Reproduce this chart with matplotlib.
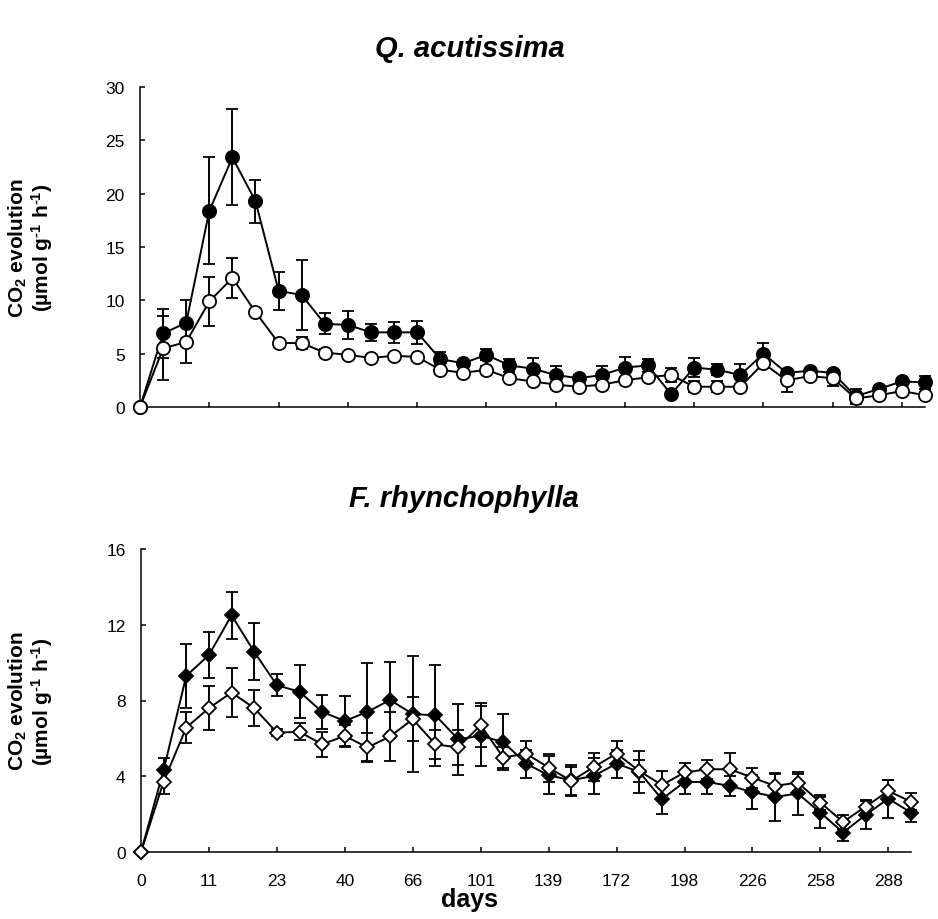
import matplotlib
matplotlib.use('Agg')
import matplotlib.pyplot as plt
import numpy as np

plt.rcParams['font.family'] = ['Liberation Sans', 'DejaVu Sans']
plt.rcParams['mathtext.fontset'] = 'custom'
plt.rcParams['mathtext.rm'] = 'Liberation Sans:bold'
plt.rcParams['mathtext.bf'] = 'Liberation Sans:bold'
plt.rcParams['mathtext.it'] = 'Liberation Sans:italic'

# sampling dates (every third point carries a label)
day_labels = ['0', '11', '23', '40', '66', '101', '139', '172', '198', '226', '258', '288']

# Q. acutissima
qa_filled = [0, 6.9, 7.9, 18.4, 23.4, 19.3, 10.9, 10.5, 7.8, 7.7, 7.0, 7.0, 7.0,
             4.5, 4.1, 4.9, 3.9, 3.6, 3.0, 2.7, 3.0, 3.7, 3.9, 1.2, 3.7, 3.5,
             3.0, 5.0, 3.2, 3.4, 3.2, 1.0, 1.7, 2.4, 2.3]
qa_filled_err = [0, 2.3, 2.1, 5.0, 4.5, 2.0, 1.8, 3.3, 1.0, 1.3, 0.8, 1.0, 1.1,
                 0.7, 0.3, 0.5, 0.6, 1.0, 0.8, 0.3, 0.8, 1.0, 0.6, 0.2, 0.9, 0.5,
                 1.0, 1.0, 0.4, 0.2, 0.3, 0.7, 0.3, 0.3, 0.6]
qa_open = [0, 5.5, 6.1, 9.9, 12.1, 8.9, 6.0, 6.0, 5.1, 4.9, 4.6, 4.8, 4.7,
           3.5, 3.2, 3.5, 2.7, 2.4, 2.1, 1.9, 2.1, 2.5, 2.8, 3.0, 1.9, 1.9,
           1.9, 4.1, 2.5, 2.9, 2.7, 0.8, 1.1, 1.5, 1.1]
qa_open_err = [0, 3.0, 2.0, 2.3, 1.9, 0.3, 0.4, 0.6, 0.3, 0.3, 0.3, 0.3, 0.2,
               0.4, 0.2, 0.3, 0.2, 0.2, 0.2, 0.2, 0.2, 0.2, 0.2, 0.7, 0.5, 0.5,
               0.2, 0.3, 1.1, 0.3, 0.7, 0.3, 0.2, 0.2, 0.2]

# F. rhynchophylla
fr_filled = [0, 4.33, 9.3, 10.4, 12.5, 10.57, 8.81, 8.46, 7.4, 6.92, 7.4, 8.03, 7.28,
             7.22, 5.96, 6.13, 5.81, 4.67, 4.05, 3.79, 4.02, 4.67, 4.23, 2.79, 3.7,
             3.7, 3.49, 3.17, 2.91, 3.09, 2.08, 1.03, 1.96, 2.82, 2.08]
fr_filled_err = [0, 0.65, 1.68, 1.2, 1.24, 1.5, 0.58, 1.41, 0.9, 1.33, 2.57, 2.0, 3.08,
                 2.66, 1.87, 1.6, 1.47, 0.74, 1.0, 0.83, 0.97, 0.74, 1.1, 0.76, 0.65,
                 0.65, 0.53, 0.91, 1.27, 1.13, 0.83, 0.45, 0.76, 1.0, 0.49]
fr_open = [0, 3.72, 6.57, 7.6, 8.42, 7.6, 6.31, 6.34, 5.69, 6.13, 5.52, 6.1, 7.01,
           5.69, 5.52, 6.7, 4.99, 5.2, 4.46, 3.75, 4.49, 5.2, 4.28, 3.54, 4.2,
           4.37, 4.37, 3.93, 3.49, 3.67, 2.61, 1.59, 2.4, 3.22, 2.66]
fr_open_err = [0, 0.65, 0.8, 1.17, 1.3, 0.95, 0.2, 0.45, 0.67, 0.6, 0.75, 1.27, 1.15,
               0.76, 0.9, 1.15, 0.58, 0.67, 0.74, 0.75, 0.73, 0.67, 0.6, 0.74, 0.49,
               0.49, 0.85, 0.53, 0.62, 0.44, 0.4, 0.37, 0.33, 0.58, 0.44]

x = np.arange(len(qa_filled))
tick_pos = np.arange(0, len(x), 3)

fig = plt.figure(figsize=(9.38, 9.2), dpi=100)
ax1 = fig.add_axes([0.1493, 0.5565, 0.8369, 0.3478])
ax2 = fig.add_axes([0.1503, 0.0728, 0.8209, 0.3294])

common = dict(color='black', lw=1.4, elinewidth=1.4, capthick=1.4, capsize=4.3,
              mec='black', mew=1.3, clip_on=False)


def style_axis(ax, ymax, ystep):
    for side in ['top', 'right']:
        ax.spines[side].set_visible(False)
    for side in ['left', 'bottom']:
        ax.spines[side].set_linewidth(1.1)
    ax.set_xlim(0, len(x) - 1)
    ax.set_ylim(0, ymax)
    ax.set_yticks(np.arange(0, ymax + 0.1, ystep))
    ax.set_xticks(tick_pos)
    ax.tick_params(axis='both', direction='in', length=3.6, width=1.1, labelsize=12.5)
    ax.tick_params(axis='y', pad=11)
    ax.tick_params(axis='x', pad=15)


ax1.errorbar(x, qa_filled, yerr=qa_filled_err, fmt='-o', ms=9.5, mfc='black', zorder=3, **common)
ax1.errorbar(x, qa_open, yerr=qa_open_err, fmt='-o', ms=9.5, mfc='white', zorder=4, **common)
style_axis(ax1, 30, 5)
ax1.set_xticklabels([])
ax1.set_title('Q. acutissima', fontsize=21, fontweight='bold', style='italic', x=0.42, pad=22)

ax2.errorbar(x, fr_filled, yerr=fr_filled_err, fmt='-D', ms=6.8, mfc='black', zorder=3, **common)
ax2.errorbar(x, fr_open, yerr=fr_open_err, fmt='-D', ms=6.8, mfc='white', zorder=4, **common)
style_axis(ax2, 16, 4)
ax2.set_xticklabels(day_labels)
ax2.set_title('F. rhynchophylla', fontsize=21, fontweight='bold', style='italic', x=0.42, pad=31)

ylab = 'CO$_{\\text{2}}$ evolution\n(µmol g$^{\\text{-1}}$ h$^{\\text{-1}}$)'
fig.text(0.033, 0.7304, ylab, rotation=90, ha='center', va='center', ma='center',
         fontsize=15, fontweight='bold', linespacing=1.0)
fig.text(0.033, 0.2375, ylab, rotation=90, ha='center', va='center', ma='center',
         fontsize=15, fontweight='bold', linespacing=1.0)

fig.text(0.5, 0.022, 'days', ha='center', va='center', fontsize=18, fontweight='bold')

plt.savefig('out.png', dpi=100)
plt.close()
